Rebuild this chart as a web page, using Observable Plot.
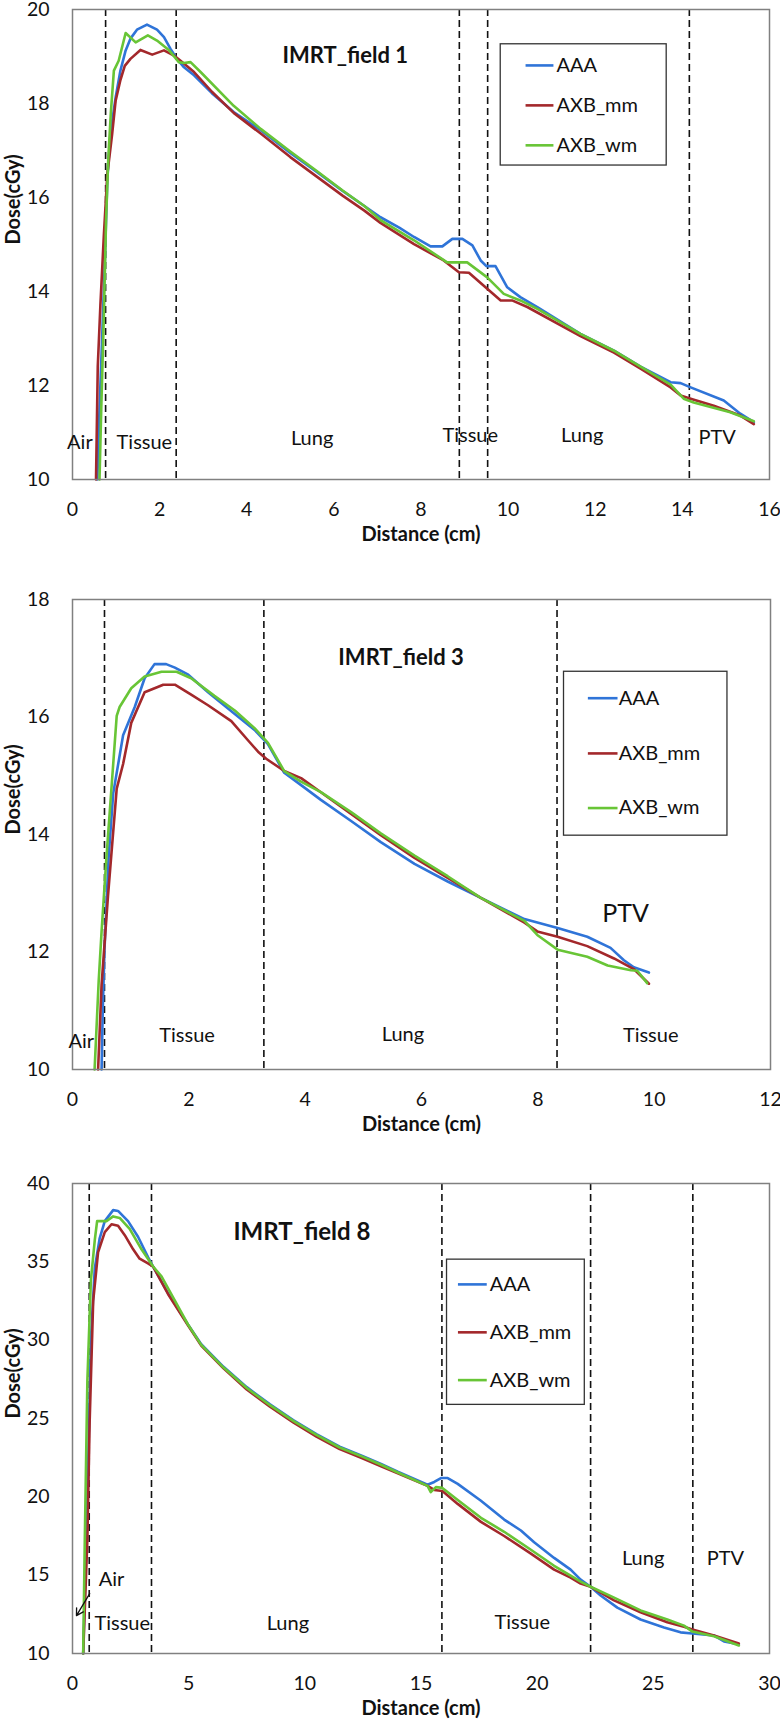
<!DOCTYPE html>
<html><head><meta charset="utf-8">
<script src="https://cdn.jsdelivr.net/npm/d3@7"></script>
<script src="https://cdn.jsdelivr.net/npm/@observablehq/plot@0.6"></script>
<style>body{margin:0;background:#fff;} #chart svg{display:block;}</style>
</head><body><div id="chart"></div>
<script>
const seriesNames = ["AAA", "AXB_mm", "AXB_wm"];
const seriesColors = ["#2f74d8", "#a3282b", "#68c536"];

// ---- IMRT_field 1 ----
const f1Title = "IMRT_field 1";
const f1XTicks = [0, 2, 4, 6, 8, 10, 12, 14, 16];
const f1YTicks = [10, 12, 14, 16, 18, 20];
const f1Dashes = [0.76, 2.38, 8.88, 9.53, 14.16];
const f1AAA = [[0.57,10],[0.62,11.5],[0.68,13],[0.74,14.6],[0.80,16.4],[0.87,17.36],[0.99,18.13],[1.10,18.70],[1.22,19.13],[1.33,19.38],[1.48,19.57],[1.71,19.68],[1.94,19.57],[2.10,19.41],[2.25,19.16],[2.40,18.95],[2.56,18.77],[2.79,18.6],[3.2,18.22],[3.7,17.82],[4.32,17.43],[5.0,16.95],[5.6,16.55],[6.2,16.14],[6.7,15.82],[7.07,15.58],[7.5,15.36],[7.84,15.16],[8.22,14.96],[8.49,14.96],[8.72,15.12],[8.95,15.12],[9.18,14.98],[9.37,14.66],[9.5,14.54],[9.71,14.54],[9.98,14.09],[10.28,13.88],[10.67,13.67],[11.66,13.1],[12.43,12.74],[13.04,12.4],[13.73,12.07],[13.96,12.05],[14.19,11.96],[14.95,11.68],[15.33,11.40],[15.64,11.22]];
const f1MM = [[0.54,10],[0.58,12.4],[0.64,13.7],[0.72,15.2],[0.80,16.5],[0.91,17.35],[0.99,18.06],[1.10,18.5],[1.2,18.8],[1.33,18.95],[1.56,19.14],[1.83,19.04],[2.10,19.13],[2.33,19.02],[2.48,18.91],[2.79,18.67],[3.2,18.25],[3.7,17.8],[4.32,17.36],[5.0,16.86],[5.6,16.45],[6.2,16.04],[6.7,15.72],[7.07,15.46],[7.84,15.01],[8.52,14.66],[8.87,14.41],[9.10,14.40],[9.52,14.06],[9.83,13.81],[10.09,13.81],[10.44,13.67],[11.66,13.05],[12.43,12.7],[13.04,12.36],[13.73,11.96],[13.96,11.79],[14.19,11.72],[14.72,11.57],[15.33,11.36],[15.64,11.18]];
const f1WM = [[0.62,10],[0.66,11.5],[0.72,13.5],[0.77,15.5],[0.82,16.8],[0.88,17.8],[0.95,18.70],[1.06,18.91],[1.22,19.50],[1.45,19.30],[1.73,19.45],[1.94,19.34],[2.21,19.14],[2.44,18.88],[2.56,18.86],[2.71,18.88],[2.94,18.67],[3.7,17.95],[4.32,17.46],[5.0,16.98],[5.6,16.57],[6.2,16.15],[6.7,15.82],[7.07,15.52],[7.84,15.09],[8.60,14.62],[8.87,14.62],[9.06,14.62],[9.52,14.30],[9.90,13.95],[10.28,13.81],[10.67,13.63],[11.66,13.1],[12.43,12.74],[13.04,12.4],[13.73,12.02],[14.03,11.72],[14.26,11.64],[15.10,11.43],[15.64,11.24]];
const f1Regions = [["Air",0.17,10.79],["Tissue",1.65,10.79],["Lung",5.5,10.87],["Tissue",9.13,10.94],["Lung",11.7,10.94],["PTV",14.8,10.9]];

// ---- IMRT_field 3 ----
const f3Title = "IMRT_field 3";
const f3XTicks = [0, 2, 4, 6, 8, 10, 12];
const f3YTicks = [10, 12, 14, 16, 18];
const f3Dashes = [0.55, 3.29, 8.33];
const f3AAA = [[0.50,10],[0.52,11],[0.55,12.04],[0.62,13.6],[0.7,14.7],[0.87,15.69],[1.07,16.17],[1.24,16.66],[1.41,16.90],[1.61,16.90],[1.76,16.84],[1.99,16.72],[2.33,16.42],[2.79,16.05],[3.13,15.78],[3.36,15.54],[3.64,15.05],[3.93,14.84],[4.27,14.59],[4.79,14.23],[5.30,13.87],[5.88,13.50],[6.45,13.20],[7.02,12.92],[7.77,12.56],[8.34,12.41],[8.85,12.26],[9.25,12.07],[9.48,11.86],[9.65,11.74],[9.91,11.65]];
const f3MM = [[0.44,10],[0.50,11.44],[0.61,12.95],[0.76,14.78],[0.87,15.20],[1.01,15.90],[1.24,16.42],[1.39,16.48],[1.56,16.55],[1.76,16.55],[2.04,16.38],[2.33,16.20],[2.73,15.93],[3.02,15.60],[3.19,15.41],[3.33,15.29],[3.64,15.08],[3.93,14.96],[4.27,14.72],[4.79,14.35],[5.30,13.99],[5.88,13.6],[6.45,13.26],[7.02,12.92],[7.77,12.50],[7.99,12.35],[8.34,12.26],[8.85,12.10],[9.31,11.89],[9.65,11.71],[9.91,11.46]];
const f3WM = [[0.38,10],[0.45,11.5],[0.50,12.35],[0.58,13.56],[0.76,16.02],[0.81,16.17],[1.01,16.49],[1.24,16.69],[1.53,16.77],[1.79,16.77],[2.04,16.66],[2.44,16.36],[2.79,16.11],[3.13,15.81],[3.36,15.56],[3.64,15.08],[3.93,14.90],[4.27,14.72],[4.79,14.38],[5.30,14.02],[5.88,13.64],[6.45,13.29],[7.02,12.92],[7.77,12.53],[7.99,12.29],[8.34,12.04],[8.85,11.92],[9.20,11.77],[9.60,11.69],[9.71,11.68],[9.88,11.47]];
const f3Regions = [["Air",0.15,10.47],["Tissue",1.97,10.57],["Lung",5.68,10.6],["Tissue",9.94,10.57]];

// ---- IMRT_field 8 ----
const f8Title = "IMRT_field 8";
const f8XTicks = [0, 5, 10, 15, 20, 25, 30];
const f8YTicks = [10, 15, 20, 25, 30, 35, 40];
const f8Dashes = [0.72, 3.40, 15.9, 22.3, 26.7];
const f8AAA = [[0.46,10],[0.64,19.8],[0.79,30.0],[0.96,34.6],[1.17,36.5],[1.39,37.6],[1.75,38.3],[1.96,38.25],[2.39,37.6],[2.82,36.6],[3.25,35.3],[3.47,34.7],[4.11,33.0],[4.97,31.0],[5.54,29.74],[6.5,28.3],[7.5,27.0],[8.5,25.9],[9.5,24.9],[10.5,24.0],[11.5,23.2],[12.5,22.6],[13.28,22.1],[14.0,21.6],[15.28,20.77],[15.57,20.95],[15.86,21.2],[16.15,21.2],[16.58,20.83],[17.58,19.75],[18.58,18.55],[19.3,17.85],[19.87,17.1],[20.73,16.1],[21.44,15.35],[21.87,14.72],[22.3,14.26],[22.73,13.7],[23.45,12.93],[24.45,12.17],[25.46,11.66],[26.17,11.35],[26.68,11.28],[27.61,11.15],[28.04,10.77],[28.68,10.59]];
const f8MM = [[0.46,10],[0.64,17.3],[0.74,24.9],[0.89,32.5],[1.1,35.6],[1.39,36.9],[1.68,37.4],[1.96,37.3],[2.25,36.7],[2.61,35.8],[2.89,35.2],[3.25,34.9],[3.47,34.7],[4.11,32.95],[4.97,30.95],[5.54,29.65],[6.5,28.2],[7.5,26.85],[8.5,25.75],[9.5,24.75],[10.5,23.85],[11.5,23.05],[12.5,22.45],[13.28,21.95],[14.0,21.5],[15.28,20.7],[15.57,20.44],[15.92,20.37],[16.58,19.55],[17.58,18.4],[18.58,17.5],[19.73,16.37],[20.73,15.35],[21.44,14.84],[21.87,14.46],[22.3,14.26],[23.31,13.39],[24.45,12.63],[25.6,12.0],[26.32,11.71],[26.68,11.53],[27.61,11.15],[28.68,10.64]];
const f8WM = [[0.46,10],[0.53,17.3],[0.64,27.4],[0.79,33.8],[0.96,36.4],[1.06,37.6],[1.46,37.6],[1.75,37.9],[2.03,37.8],[2.46,37.1],[2.97,35.8],[3.47,34.7],[3.83,34.07],[4.97,31.0],[5.54,29.7],[6.5,28.25],[7.5,26.95],[8.5,25.85],[9.5,24.85],[10.5,23.95],[11.5,23.15],[12.5,22.55],[13.28,22.05],[14.0,21.55],[15.28,20.7],[15.42,20.3],[15.64,20.62],[15.92,20.57],[16.58,19.8],[17.58,18.66],[18.58,17.77],[19.73,16.62],[20.73,15.6],[21.44,14.97],[21.87,14.59],[22.3,14.26],[23.31,13.57],[24.45,12.75],[25.6,12.17],[26.32,11.78],[26.68,11.40],[27.61,11.10],[28.68,10.51]];
const f8Regions = [["Air",1.68,14.71],["Tissue",2.14,11.91],["Lung",9.27,11.91],["Tissue",19.36,11.99],["Lung",24.56,16.04],["PTV",28.1,16.04]];

function panel(cfg) {
  const rows = [];
  cfg.series.forEach((pts, i) => pts.forEach(([x, y]) => rows.push({x, y, s: seriesNames[i]})));
  const L = cfg.legend;
  const legRows = seriesNames.map((s, i) => ({s, y: L.rows[i]}));
  const regions = cfg.regions.map(([t, x, y]) => ({t, x, y}));
  const marks = [
    Plot.ruleX(cfg.dashes, {stroke: "#111", strokeWidth: 1.6, strokeDasharray: "7,4"}),
    Plot.line(rows, {x: "x", y: "y", z: "s", stroke: "s", strokeWidth: 2.6}),
    Plot.frame({stroke: "#808080", strokeWidth: 1.5}),
    Plot.rect([L], {x1: "x1", x2: "x2", y1: "y1", y2: "y2", fill: "white", stroke: "#333", strokeWidth: 1.3}),
    Plot.link(legRows, {x1: L.lx1, x2: L.lx2, y1: "y", y2: "y", stroke: "s", strokeWidth: 2.6}),
    Plot.text(legRows, {x: L.tx, y: "y", text: "s", textAnchor: "start", fontSize: 20, fill: "#111"}),
    Plot.text([cfg.title], {x: cfg.titlePos[0], y: cfg.titlePos[1], text: d => d, textAnchor: "start", fontSize: cfg.titleSize, fontWeight: "bold", fill: "#111"}),
    Plot.text(regions, {x: "x", y: "y", text: "t", fontSize: 20, fill: "#111"}),
    Plot.text(["Distance (cm)"], {frameAnchor: "bottom", dy: 61, text: d => d, fontSize: 20, fontWeight: "bold", fill: "#111"}),
    Plot.text(["Dose(cGy)"], {frameAnchor: "left", dx: -59, rotate: -90, text: d => d, fontSize: 20, fontWeight: "bold", fill: "#111"})
  ];
  if (cfg.extra) marks.push(...cfg.extra);
  return Plot.plot({
    width: 780, height: cfg.height,
    marginLeft: 72, marginRight: cfg.mr, marginTop: cfg.mt, marginBottom: cfg.mb,
    style: {fontFamily: "Lato, sans-serif", fontSize: "19.5px", background: "white", color: "#111", overflow: "visible"},
    x: {domain: cfg.xDomain, ticks: cfg.xTicks, tickSize: 0, tickPadding: 23, label: null},
    y: {domain: cfg.yDomain, ticks: cfg.yTicks, tickSize: 0, tickPadding: 23, label: null},
    color: {domain: seriesNames, range: seriesColors},
    marks
  });
}

const chart = document.getElementById("chart");
chart.append(panel({
  height: 570, mt: 9, mb: 91, mr: 11,
  xDomain: [0, 16], yDomain: [10, 20], xTicks: f1XTicks, yTicks: f1YTicks,
  dashes: f1Dashes, series: [f1AAA, f1MM, f1WM], regions: f1Regions,
  title: f1Title, titlePos: [4.82, 19.02], titleSize: 22,
  legend: {x1: 9.83, x2: 13.64, y1: 19.26, y2: 16.68, lx1: 10.40, lx2: 11.04, tx: 11.11, rows: [18.81, 17.96, 17.11]}
}));
chart.append(panel({
  height: 584, mt: 29, mb: 85, mr: 10,
  xDomain: [0, 12], yDomain: [10, 18], xTicks: f3XTicks, yTicks: f3YTicks,
  dashes: f3Dashes, series: [f3AAA, f3MM, f3WM], regions: f3Regions,
  title: f3Title, titlePos: [4.57, 17.0], titleSize: 22,
  legend: {x1: 8.45, x2: 11.26, y1: 16.77, y2: 13.98, lx1: 8.86, lx2: 9.37, tx: 9.39, rows: [16.32, 15.38, 14.45]},
  extra: [Plot.text(["PTV"], {x: 9.51, y: 12.65, text: d => d, fontSize: 25, fill: "#111"})]
}));
chart.append(panel({
  height: 572, mt: 29, mb: 73, mr: 11,
  xDomain: [0, 30], yDomain: [10, 40], xTicks: f8XTicks, yTicks: f8YTicks,
  dashes: f8Dashes, series: [f8AAA, f8MM, f8WM], regions: f8Regions,
  title: f8Title, titlePos: [6.93, 36.87], titleSize: 24,
  legend: {x1: 16.12, x2: 22.05, y1: 35.14, y2: 25.87, lx1: 16.59, lx2: 17.83, tx: 17.96, rows: [33.56, 30.50, 27.45]},
  extra: [Plot.arrow([{x1: 0.74, y1: 13.82, x2: 0.17, y2: 12.42}], {x1: "x1", y1: "y1", x2: "x2", y2: "y2", stroke: "#111", strokeWidth: 1.3, headLength: 9})]
}));
</script>
</body></html>
